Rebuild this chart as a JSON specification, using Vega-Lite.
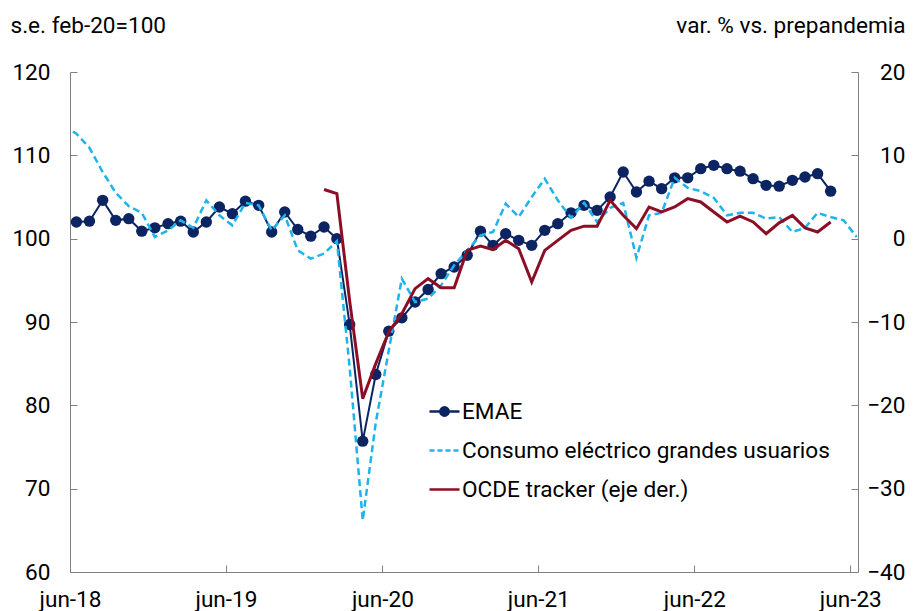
{
  "$schema": "https://vega.github.io/schema/vega-lite/v6.json",
  "width": 788,
  "height": 500,
  "autosize": {"type": "none"},
  "padding": {"left": 70, "top": 72, "right": 59, "bottom": 39},
  "background": "white",
  "config": {
    "view": {"stroke": null},
    "font": "Roboto",
    "axis": {"grid": false, "domainColor": "#808080", "tickColor": "#808080", "labelColor": "#000000", "labelFont": "Roboto", "labelFontSize": 22.6, "titleFont": "Roboto", "titleFontSize": 22.6, "titleFontWeight": "normal", "titleColor": "#000000", "tickSize": -7, "labelOverlap": false, "labelBound": false}
  },
  "data": {"values": [
    {"mes": "2018/05/01", "emae": null, "consumo": 113.5, "ocde": null},
    {"mes": "2018/06/01", "emae": 102.0, "consumo": 112.6, "ocde": null},
    {"mes": "2018/07/01", "emae": 102.1, "consumo": 110.9, "ocde": null},
    {"mes": "2018/08/01", "emae": 104.6, "consumo": 108.0, "ocde": null},
    {"mes": "2018/09/01", "emae": 102.2, "consumo": 105.5, "ocde": null},
    {"mes": "2018/10/01", "emae": 102.4, "consumo": 103.9, "ocde": null},
    {"mes": "2018/11/01", "emae": 100.9, "consumo": 103.1, "ocde": null},
    {"mes": "2018/12/01", "emae": 101.3, "consumo": 100.2, "ocde": null},
    {"mes": "2019/01/01", "emae": 101.8, "consumo": 101.0, "ocde": null},
    {"mes": "2019/02/01", "emae": 102.1, "consumo": 102.2, "ocde": null},
    {"mes": "2019/03/01", "emae": 100.8, "consumo": 101.3, "ocde": null},
    {"mes": "2019/04/01", "emae": 102.0, "consumo": 104.6, "ocde": null},
    {"mes": "2019/05/01", "emae": 103.8, "consumo": 102.8, "ocde": null},
    {"mes": "2019/06/01", "emae": 103.0, "consumo": 101.6, "ocde": null},
    {"mes": "2019/07/01", "emae": 104.5, "consumo": 104.3, "ocde": null},
    {"mes": "2019/08/01", "emae": 104.0, "consumo": 104.0, "ocde": null},
    {"mes": "2019/09/01", "emae": 100.8, "consumo": 101.0, "ocde": null},
    {"mes": "2019/10/01", "emae": 103.2, "consumo": 102.8, "ocde": null},
    {"mes": "2019/11/01", "emae": 101.1, "consumo": 98.6, "ocde": null},
    {"mes": "2019/12/01", "emae": 100.3, "consumo": 97.6, "ocde": null},
    {"mes": "2020/01/01", "emae": 101.4, "consumo": 98.2, "ocde": 5.9},
    {"mes": "2020/02/01", "emae": 100.0, "consumo": 99.7, "ocde": 5.4},
    {"mes": "2020/03/01", "emae": 89.7, "consumo": 84.5, "ocde": -7.5},
    {"mes": "2020/04/01", "emae": 75.7, "consumo": 66.2, "ocde": -19.2},
    {"mes": "2020/05/01", "emae": 83.7, "consumo": 77.9, "ocde": -15.0},
    {"mes": "2020/06/01", "emae": 88.9, "consumo": 86.6, "ocde": -11.2},
    {"mes": "2020/07/01", "emae": 90.5, "consumo": 95.2, "ocde": -9.0},
    {"mes": "2020/08/01", "emae": 92.4, "consumo": 92.4, "ocde": -6.0},
    {"mes": "2020/09/01", "emae": 93.9, "consumo": 92.8, "ocde": -4.8},
    {"mes": "2020/10/01", "emae": 95.8, "consumo": 94.4, "ocde": -5.9},
    {"mes": "2020/11/01", "emae": 96.6, "consumo": 96.8, "ocde": -5.9},
    {"mes": "2020/12/01", "emae": 98.0, "consumo": 98.6, "ocde": -1.4},
    {"mes": "2021/01/01", "emae": 100.9, "consumo": 100.4, "ocde": -0.9},
    {"mes": "2021/02/01", "emae": 99.2, "consumo": 100.8, "ocde": -1.3},
    {"mes": "2021/03/01", "emae": 100.6, "consumo": 104.2, "ocde": -0.2},
    {"mes": "2021/04/01", "emae": 99.8, "consumo": 102.6, "ocde": -1.2},
    {"mes": "2021/05/01", "emae": 99.2, "consumo": 105.0, "ocde": -5.2},
    {"mes": "2021/06/01", "emae": 101.0, "consumo": 107.2, "ocde": -1.4},
    {"mes": "2021/07/01", "emae": 101.8, "consumo": 104.6, "ocde": -0.2},
    {"mes": "2021/08/01", "emae": 103.1, "consumo": 102.5, "ocde": 1.0},
    {"mes": "2021/09/01", "emae": 104.0, "consumo": 104.3, "ocde": 1.5},
    {"mes": "2021/10/01", "emae": 103.4, "consumo": 102.0, "ocde": 1.5},
    {"mes": "2021/11/01", "emae": 105.0, "consumo": 103.7, "ocde": 4.6},
    {"mes": "2021/12/01", "emae": 108.0, "consumo": 104.3, "ocde": 2.8},
    {"mes": "2022/01/01", "emae": 105.6, "consumo": 97.7, "ocde": 1.2},
    {"mes": "2022/02/01", "emae": 106.9, "consumo": 102.8, "ocde": 3.8},
    {"mes": "2022/03/01", "emae": 106.0, "consumo": 103.1, "ocde": 3.2},
    {"mes": "2022/04/01", "emae": 107.3, "consumo": 107.3, "ocde": 3.8},
    {"mes": "2022/05/01", "emae": 107.3, "consumo": 106.1, "ocde": 4.8},
    {"mes": "2022/06/01", "emae": 108.4, "consumo": 105.7, "ocde": 4.4},
    {"mes": "2022/07/01", "emae": 108.8, "consumo": 104.9, "ocde": 3.2},
    {"mes": "2022/08/01", "emae": 108.4, "consumo": 102.8, "ocde": 2.0},
    {"mes": "2022/09/01", "emae": 108.1, "consumo": 103.1, "ocde": 2.7},
    {"mes": "2022/10/01", "emae": 107.2, "consumo": 103.1, "ocde": 2.0},
    {"mes": "2022/11/01", "emae": 106.4, "consumo": 102.4, "ocde": 0.6},
    {"mes": "2022/12/01", "emae": 106.3, "consumo": 102.6, "ocde": 1.9},
    {"mes": "2023/01/01", "emae": 107.0, "consumo": 100.8, "ocde": 2.8},
    {"mes": "2023/02/01", "emae": 107.4, "consumo": 101.3, "ocde": 1.3},
    {"mes": "2023/03/01", "emae": 107.8, "consumo": 103.1, "ocde": 0.8},
    {"mes": "2023/04/01", "emae": 105.7, "consumo": 102.6, "ocde": 2.0},
    {"mes": "2023/05/01", "emae": null, "consumo": 102.2, "ocde": null},
    {"mes": "2023/06/01", "emae": null, "consumo": 100.2, "ocde": null}
  ]},
  "encoding": {
    "x": {
      "field": "mes", "timeUnit": "yearmonth", "type": "temporal", "bandPosition": 0.5,
      "scale": {"domain": [{"year": 2018, "month": 6, "date": 1}, {"year": 2023, "month": 6, "date": 19}], "nice": false},
      "axis": {
        "title": null,
        "values": [{"year": 2018, "month": 6, "date": 1}, {"year": 2019, "month": 6, "date": 1}, {"year": 2020, "month": 6, "date": 1}, {"year": 2021, "month": 6, "date": 1}, {"year": 2022, "month": 6, "date": 1}, {"year": 2023, "month": 6, "date": 1}],
        "labelExpr": "lower(timeFormat(datum.value, '%b-%y'))",
        "labelFlush": false,
        "labelPadding": 23
      }
    }
  },
  "layer": [
    {
      "layer": [
        {
          "mark": {"type": "line", "strokeWidth": 2, "clip": true},
          "encoding": {
            "y": {"field": "emae", "type": "quantitative", "scale": {"domain": [60, 120], "nice": false, "zero": false},
              "axis": {"values": [60, 70, 80, 90, 100, 110, 120], "labelPadding": 27, "title": "s.e. feb-20=100", "titleAngle": 0, "titleAlign": "left", "titleBaseline": "alphabetic", "titleX": -60, "titleY": -40}},
            "color": {
              "datum": "EMAE", "type": "nominal",
              "scale": {"domain": ["EMAE", "Consumo eléctrico grandes usuarios", "OCDE tracker (eje der.)"], "range": ["#0c2461", "#1db4ec", "#8b0e26"]},
              "legend": {
                "orient": "none", "legendX": 358, "legendY": 323, "title": null, "padding": 0,
                "symbolType": "stroke", "symbolSize": 900, "symbolStrokeWidth": 2.5,
                "labelFont": "Roboto", "labelFontSize": 22.6, "labelColor": "#000000", "labelOffset": 1, "labelLimit": 600,
                "rowPadding": 10,
                "encode": {
                  "symbols": {
                    "update": {
                      "shape": [{"test": "datum.value === 'EMAE'", "value": "M-1,0L1,0M0.28,0A0.28,0.28,0,1,1,-0.28,0A0.28,0.28,0,1,1,0.28,0Z"}, {"value": "stroke"}],
                      "strokeDash": [{"test": "datum.value === 'Consumo eléctrico grandes usuarios'", "value": [5, 3]}, {"value": []}],
                      "fill": [{"test": "datum.value === 'EMAE'", "value": "#0c2461"}, {"value": "transparent"}],
                      "fillOpacity": {"value": 1},
                      "strokeWidth": {"value": 2.5}
                    }
                  }
                }
              }
            }
          }
        },
        {
          "mark": {"type": "point", "filled": true, "size": 130, "opacity": 1},
          "encoding": {
            "y": {"field": "emae", "type": "quantitative"},
            "color": {"datum": "EMAE", "type": "nominal"}
          }
        },
        {
          "mark": {"type": "line", "strokeWidth": 2.5, "strokeDash": [7, 4], "clip": true},
          "encoding": {
            "y": {"field": "consumo", "type": "quantitative"},
            "color": {"datum": "Consumo eléctrico grandes usuarios", "type": "nominal"}
          }
        }
      ]
    },
    {
      "mark": {"type": "line", "strokeWidth": 3, "clip": true},
      "encoding": {
        "y": {"field": "ocde", "type": "quantitative", "scale": {"domain": [-40, 20], "nice": false, "zero": false},
          "axis": {"orient": "right", "values": [-40, -30, -20, -10, 0, 10, 20], "labelAlign": "right", "labelPadding": 54, "title": "var. % vs. prepandemia", "titleAngle": 0, "titleAlign": "right", "titleBaseline": "alphabetic", "titleX": 47, "titleY": -40}},
        "color": {"datum": "OCDE tracker (eje der.)", "type": "nominal"}
      }
    }
  ],
  "resolve": {"scale": {"y": "independent"}}
}
